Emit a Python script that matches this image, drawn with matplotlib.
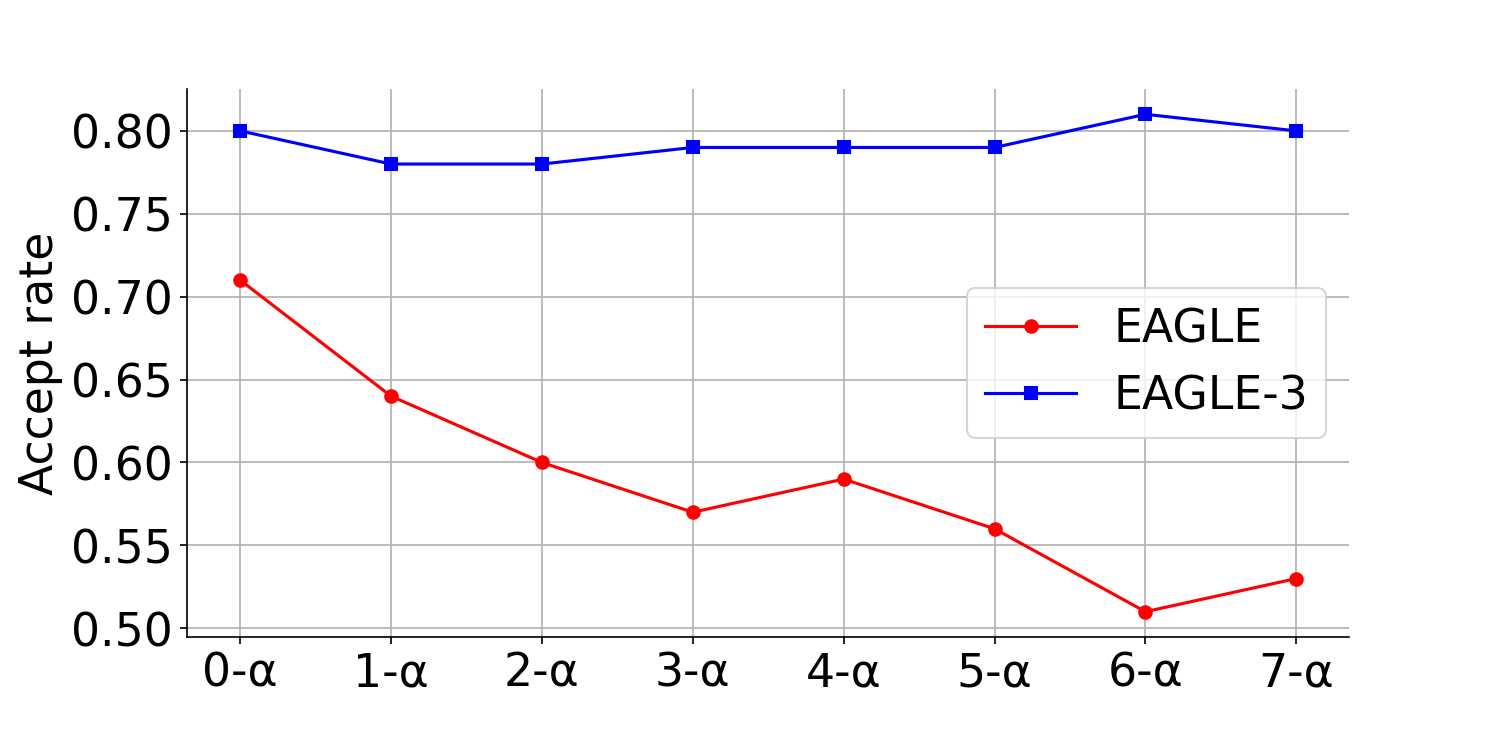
import matplotlib
matplotlib.use("Agg")
import matplotlib.pyplot as plt
import numpy as np

labels = ["0-α", "1-α", "2-α", "3-α", "4-α", "5-α", "6-α", "7-α"]
eagle = [0.71, 0.64, 0.60, 0.57, 0.59, 0.56, 0.51, 0.53]
eagle3 = [0.80, 0.78, 0.78, 0.79, 0.79, 0.79, 0.81, 0.80]
yticks = [0.50, 0.55, 0.60, 0.65, 0.70, 0.75, 0.80]

fig, ax = plt.subplots(figsize=(10, 5), dpi=149.9)
fig.subplots_adjust(left=0.125, right=0.9, top=0.88, bottom=0.15)

x = range(len(labels))
ax.plot(x, eagle, color="red", marker="o", label="EAGLE")
ax.plot(x, eagle3, color="blue", marker="s", label="EAGLE-3")

ax.set_xticks(list(x))
ax.set_xticklabels(labels)
ax.set_yticks(yticks)
ax.set_yticklabels([f"{v:.2f}" for v in yticks])
ax.set_ylabel("Accept rate", fontsize=22)
ax.tick_params(labelsize=22)
ax.grid(True)
ax.spines["top"].set_visible(False)
ax.spines["right"].set_visible(False)
ax.legend(fontsize=22, loc="center right")

fig.savefig("out.png")
